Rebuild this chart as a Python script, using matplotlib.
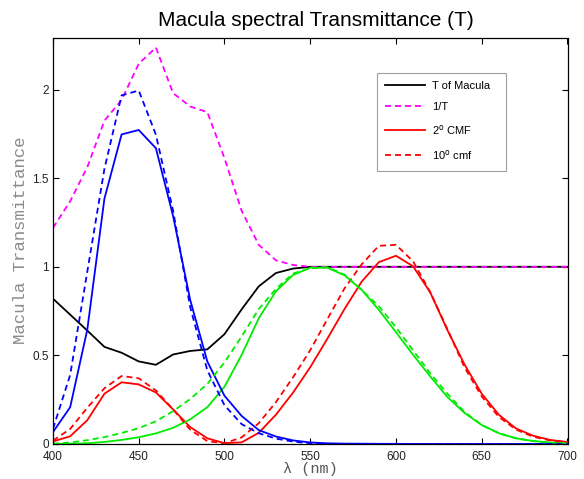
import numpy as np
import matplotlib
matplotlib.use("Agg")
import matplotlib.pyplot as plt

# ---- data ----
wl = list(range(400, 701, 10))

# Macula transmittance
T_macula = [0.82, 0.73, 0.64, 0.548, 0.515, 0.466, 0.447, 0.505, 0.525, 0.534,
            0.62, 0.76, 0.89, 0.965, 0.99, 1.0, 1.0, 1.0, 1.0, 1.0,
            1.0, 1.0, 1.0, 1.0, 1.0, 1.0, 1.0, 1.0, 1.0, 1.0, 1.0]

# 2 deg CMF
x2 = [0.01431, 0.04351, 0.13438, 0.2839, 0.34828, 0.3362, 0.2908, 0.19536, 0.09564, 0.03201,
      0.0049, 0.0093, 0.06327, 0.1655, 0.2904, 0.43345, 0.5945, 0.7621, 0.9163, 1.0263,
      1.0622, 1.0026, 0.85445, 0.6424, 0.4479, 0.2835, 0.1649, 0.0874, 0.04677, 0.0227, 0.011359]
y2 = [0.000396, 0.00121, 0.004, 0.0116, 0.023, 0.038, 0.06, 0.09098, 0.13902, 0.20802,
      0.323, 0.503, 0.71, 0.862, 0.954, 0.99495, 0.995, 0.952, 0.87, 0.757,
      0.631, 0.503, 0.381, 0.265, 0.175, 0.107, 0.061, 0.032, 0.017, 0.00821, 0.004102]
z2 = [0.06785, 0.2074, 0.6456, 1.3856, 1.74706, 1.77211, 1.6692, 1.28764, 0.81295, 0.46518,
      0.272, 0.1582, 0.07825, 0.04216, 0.0203, 0.00875, 0.0039, 0.0021, 0.00165, 0.0011,
      0.0008, 0.00034, 0.00019, 0.00005, 0.00002, 0, 0, 0, 0, 0, 0]

# 10 deg cmf
x10 = [0.019011, 0.084736, 0.204492, 0.314679, 0.383734, 0.370702, 0.302273, 0.195618, 0.080507, 0.016172,
       0.003816, 0.037465, 0.117749, 0.236491, 0.376772, 0.529826, 0.705224, 0.878655, 1.01416, 1.11852,
       1.12399, 1.03048, 0.856297, 0.647467, 0.431567, 0.268329, 0.152568, 0.081261, 0.040851, 0.019941, 0.009577]
y10 = [0.002, 0.008752, 0.021391, 0.038676, 0.062077, 0.089456, 0.128201, 0.18519, 0.253589, 0.339133,
       0.460777, 0.606741, 0.761757, 0.875211, 0.961988, 0.991761, 0.99734, 0.955552, 0.868934, 0.777405,
       0.658341, 0.527963, 0.398057, 0.283493, 0.179828, 0.107633, 0.060281, 0.0318, 0.015905, 0.007749, 0.003718]
z10 = [0.086011, 0.389366, 0.972542, 1.55348, 1.96728, 1.9948, 1.74537, 1.31756, 0.772125, 0.415254,
       0.218502, 0.112044, 0.060709, 0.030451, 0.013676, 0.003988, 0, 0, 0, 0,
       0, 0, 0, 0, 0, 0, 0, 0, 0, 0, 0]

xticks = [400, 450, 500, 550, 600, 650, 700]
yticks = [0, 0.5, 1, 1.5, 2]
yticklabels = ['0', '0.5', '1', '1.5', '2']

# ---- plot ----
plt.rcParams['font.family'] = ['Liberation Sans', 'DejaVu Sans']
plt.rcParams['lines.scale_dashes'] = False

fig = plt.figure(figsize=(5.84, 4.79), dpi=100)
ax = fig.add_axes([53/584, 1-444/479, (567.5-53)/584, (444-37.5)/479])

lw = 1.3
dash = (0, (4.3, 2.9))
inv_T = [1.0/t for t in T_macula]

l1, = ax.plot(wl, T_macula, color='k', lw=lw, label='T of Macula')
l2, = ax.plot(wl, inv_T, color=(1, 0, 1), lw=lw, linestyle=dash, label='1/T')
l3, = ax.plot(wl, x2, color=(1, 0, 0), lw=lw, label='2$^{\\mathrm{o}}$ CMF')
ax.plot(wl, y2, color=(0, 0.92, 0), lw=lw)
ax.plot(wl, z2, color=(0, 0, 1), lw=lw)
l4, = ax.plot(wl, x10, color=(1, 0, 0), lw=lw, linestyle=dash, label='10$^{\\mathrm{o}}$ cmf')
ax.plot(wl, y10, color=(0, 0.92, 0), lw=lw, linestyle=dash)
ax.plot(wl, z10, color=(0, 0, 1), lw=lw, linestyle=dash)

ax.set_xlim(400, 700)
ax.set_ylim(0, 2.294)
ax.set_xticks(xticks)
ax.set_xticklabels([str(v) for v in xticks])
ax.set_yticks(yticks)
ax.set_yticklabels(yticklabels)
ax.tick_params(direction='in', top=True, right=True, length=4, width=0.8,
               labelsize=8.5, labelcolor='#222222')
ax.tick_params(axis='x', pad=5)
ax.tick_params(axis='y', pad=3)
for s in ax.spines.values():
    s.set_linewidth(0.9)

ax.set_title('Macula spectral Transmittance (T)', fontsize=15, pad=8, x=0.51)
ax.set_xlabel('\u03bb (nm)', family=['Liberation Mono', 'DejaVu Sans Mono'],
              fontsize=11, color='#555555', labelpad=-1)
ax.set_ylabel('Macula Transmittance', family=['Liberation Mono', 'DejaVu Sans Mono'],
              fontsize=12.5, color='#8a8a8a', labelpad=3)

ax_w, ax_h = 514.5, 406.5
leg_x0, leg_x1, leg_y1 = 377, 506, 72.5
leg = ax.legend(handles=[l1, l2, l3, l4], loc='upper left',
                bbox_to_anchor=((leg_x0-53)/ax_w, (444-leg_y1)/ax_h - 0.3,
                                (leg_x1-leg_x0)/ax_w, 0.3),
                mode='expand',
                fontsize=8, frameon=True, fancybox=False, edgecolor='#888888',
                handlelength=3.6, labelspacing=1.0, borderpad=0.75,
                handletextpad=0.6, borderaxespad=0)
leg.get_frame().set_linewidth(0.8)

fig.savefig('out.png', dpi=100)
